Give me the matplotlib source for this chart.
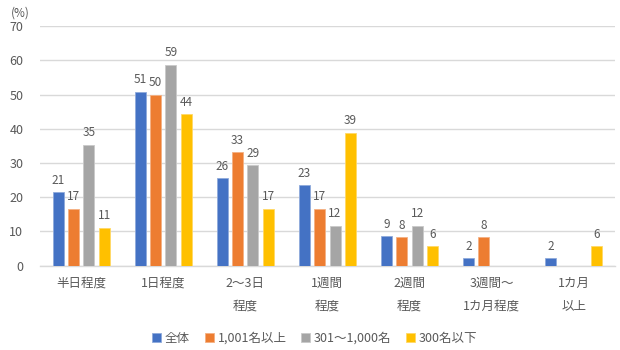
import matplotlib
matplotlib.use("Agg")
import matplotlib.pyplot as plt
import numpy as np

plt.rcParams['font.family'] = ['Noto Sans CJK JP', 'DejaVu Sans']

categories = ["半日程度", "1日程度", "2～3日\n程度", "1週間\n程度", "2週間\n程度", "3週間～\n1カ月程度", "1カ月\n以上"]
series_names = ["全体", "1,001名以上", "301～1,000名", "300名以下"]
s_all = [21.5, 50.9, 25.6, 23.5, 8.6, 2.2, 2.2]
s_1001 = [16.7, 49.9, 33.2, 16.7, 8.3, 8.3, None]
s_301 = [35.4, 58.8, 29.4, 11.7, 11.7, None, None]
s_300 = [11.1, 44.3, 16.7, 38.8, 5.7, None, 5.7]
labels_all = ["21", "51", "26", "23", "9", "2", "2"]
labels_1001 = ["17", "50", "33", "17", "8", "8", ""]
labels_301 = ["35", "59", "29", "12", "12", "", ""]
labels_300 = ["11", "44", "17", "39", "6", "", "6"]
colors = ["#4472C4", "#ED7D31", "#A5A5A5", "#FFC000"]
edgecolors = ["#8FAADC", "#F4B183", "#C9C9C9", "#FFD966"]
yticks = [0, 10, 20, 30, 40, 50, 60, 70]

series = [s_all, s_1001, s_301, s_300]
labels = [labels_all, labels_1001, labels_301, labels_300]

fig = plt.figure(figsize=(6.2, 3.5), dpi=100)
ax = fig.add_axes([0.0645, 0.241, 0.927, 0.684])

x = np.arange(len(categories))
step = 0.187
width = 0.134
txt = "#595959"
for i, (vals, labs) in enumerate(zip(series, labels)):
    off = (i - 1.5) * step
    xs = [xi + off for xi, v in zip(x, vals) if v is not None]
    vs = [v for v in vals if v is not None]
    ls = [l for l, v in zip(labs, vals) if v is not None]
    bars = ax.bar(xs, vs, width=width, color=colors[i], edgecolor=edgecolors[i],
                  linewidth=0.6, label=series_names[i], zorder=3)
    ax.bar_label(bars, labels=ls, padding=4, fontsize=8.5, color=txt)

ax.set_xlim(-0.5, len(categories) - 0.5)
ax.set_ylim(0, 70)
ax.set_yticks(yticks)
ax.set_yticklabels([str(t) for t in yticks], fontsize=9, color=txt)
ax.set_xticks(x)
ax.set_xticklabels(categories, fontsize=9, color=txt, linespacing=1.95, va='top')
ax.tick_params(axis='both', length=0)
ax.tick_params(axis='x', pad=8)
ax.tick_params(axis='y', pad=12)
ax.grid(axis='y', color='#D9D9D9', linewidth=1, zorder=0)
for s in ['top', 'right', 'left']:
    ax.spines[s].set_visible(False)
ax.spines['bottom'].set_color('#D9D9D9')
ax.spines['bottom'].set_linewidth(1)

fig.text(0.018, 0.962, "(%)", fontsize=8.5, color=txt, va='center')

leg = fig.legend(loc='center', bbox_to_anchor=(0.508, 0.033), ncol=4, frameon=False,
                 fontsize=9, handlelength=0.7, handleheight=0.7, handletextpad=0.3,
                 columnspacing=1.2, labelcolor=txt)

fig.savefig("out.png", dpi=100)
